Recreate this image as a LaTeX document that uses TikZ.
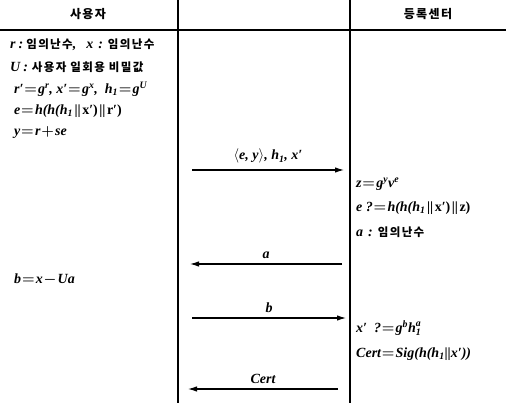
\documentclass[tikz,border=0pt]{standalone}
\usepackage{amsmath}
\usepackage{fontspec}
\setmainfont{Liberation Serif}
\newfontfamily\kr{Noto Sans CJK KR}[LetterSpace=12]
\usetikzlibrary{arrows.meta}
\newcommand\Up[1]{\textsuperscript{#1}}
\newcommand\Dn[1]{\textsubscript{#1}}
\newcommand\Eq{\kern0.8pt{\boldmath$=$}\kern1.2pt}
\newcommand\Pl{\kern0.8pt{\boldmath$+$}\kern1.2pt}
\newcommand\Mi{\kern0.8pt{\boldmath$-$}\kern1.2pt}
\newcommand\Cat{\hspace{1.5pt}\upshape||\hspace{1.5pt}}
\tikzset{
  rule/.style={line width=1.3pt},
  msg/.style={line width=1.1pt,-{Latex[length=9pt,width=5.5pt]}},
  txt/.style={anchor=west,inner sep=0pt,font=\fontsize{14}{16}\selectfont\bfseries\itshape},
  hdr/.style={inner sep=0pt,font=\fontsize{12}{14}\selectfont\kr\bfseries},
  lbl/.style={inner sep=0pt,anchor=south,font=\fontsize{14}{16}\selectfont\bfseries\itshape}
}
\newcommand\K[1]{{\fontsize{11.5}{14}\selectfont\kr\bfseries #1}}
\begin{document}
\begin{tikzpicture}[x=1pt,y=-1pt]
\useasboundingbox (0,0) rectangle (506,403);
% frame
\coordinate (hl) at (0,30); \coordinate (hr) at (506,30);
\coordinate (v1t) at (178,0); \coordinate (v1b) at (178,403);
\coordinate (v2t) at (350,0); \coordinate (v2b) at (350,403);
\draw[rule] (hl) -- (hr);
\draw[rule] (v1t) -- (v1b);
\draw[rule] (v2t) -- (v2b);
% headers
\node[hdr] (huser) at (88,14) {사용자};
\node[hdr] (hcenter) at (428,14) {등록센터};
% left column
\node[txt] (l1) at (10,45) {r\hspace{3pt}:\hspace{3pt}\K{임의난수},\hspace{10pt}x\hspace{5pt}:\hspace{5pt}\K{임의난수}};
\node[txt] (l2) at (10,67) {U\hspace{3pt}:\hspace{4pt}\K{사용자 일회용 비밀값}};
\node[txt] (l3) at (14,89) {r′\Eq g\Up{r}, x′\Eq g\Up{x},\ \ h\Dn{1}\Eq g\Up{U}};
\node[txt] (l4) at (14,111) {e\Eq h(h(h\Dn{1}\Cat x′)\Cat r′)};
\node[txt] (l5) at (14,133) {y\Eq r\Pl se};
\node[txt] (l6) at (14,280) {b\Eq x\Mi Ua};
% right column
\node[txt] (r1) at (356,184) {z\Eq g\Up{y}v\Up{e}};
\node[txt] (r2) at (356,208) {e ?\Eq h(h(h\Dn{1}\Cat x′)\Cat z)};
\node[txt] (r3) at (356,232) {a\hspace{5pt}:\hspace{5pt}\K{임의난수}};
\node[txt] (r4) at (356,328) {x′\ \ ?\Eq g\Up{b}$\text{h}_{\text{1}}^{\text{a}}$};
\node[txt] (r5) at (356,354) {Cert\Eq Sig(h(h\Dn{1}\upshape||\itshape x′))};
% messages
\coordinate (m1a) at (192,170); \coordinate (m1b) at (344,170);
\coordinate (m2a) at (342,264); \coordinate (m2b) at (190,264);
\coordinate (m3a) at (192,318); \coordinate (m3b) at (346,318);
\coordinate (m4a) at (338,389); \coordinate (m4b) at (188,389);
\draw[msg] (m1a) -- (m1b) node[lbl,midway,above=6pt] (t1) {$\langle$e, y$\rangle$, h\Dn{1}, x′};
\draw[msg] (m2a) -- (m2b) node[lbl,midway,above=5pt] (t2) {a};
\draw[msg] (m3a) -- (m3b) node[lbl,midway,above=5pt] (t3) {b};
\draw[msg] (m4a) -- (m4b) node[lbl,midway,above=5pt] (t4) {Cert};
\end{tikzpicture}
\end{document}
